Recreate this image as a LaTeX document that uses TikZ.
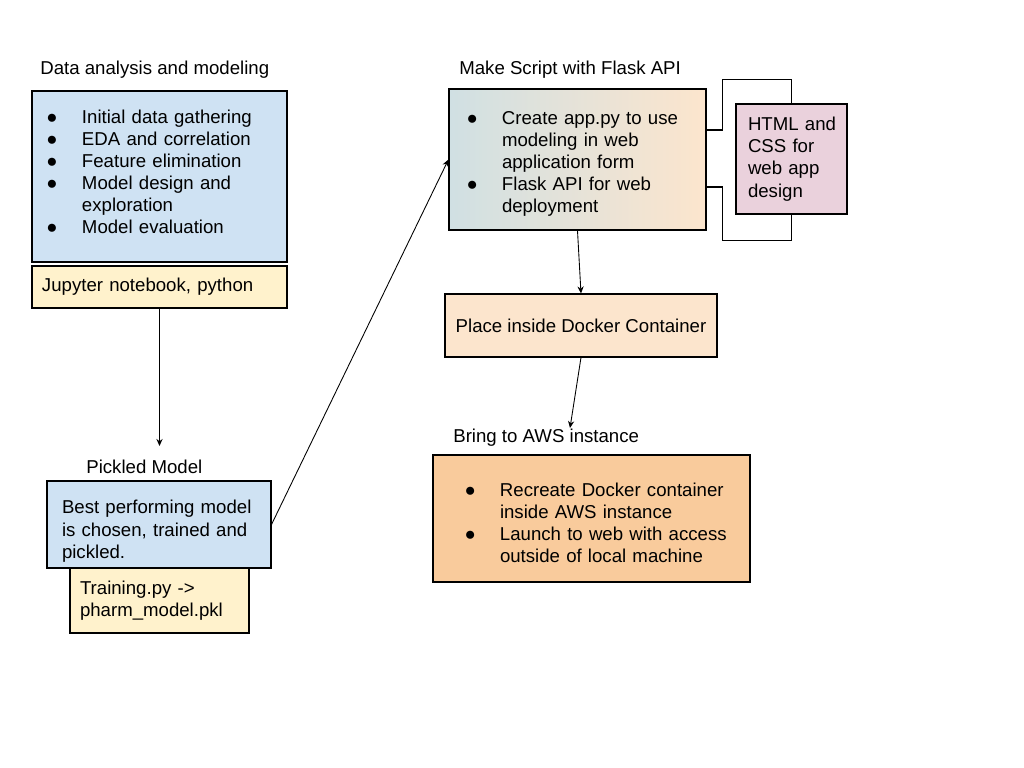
\documentclass[tikz,border=0pt]{standalone}
\usepackage{fontspec}
\setmainfont{Liberation Sans}
\usetikzlibrary{arrows.meta}

% box fill colours
\definecolor{boxblue}{HTML}{CFE2F3}
\definecolor{boxyellow}{HTML}{FFF2CC}
\definecolor{boxpink}{HTML}{EAD1DC}
\definecolor{boxpeach}{HTML}{FCE5CD}
\definecolor{boxorange}{HTML}{F9CB9C}
\definecolor{boxteal}{HTML}{D0E0E3}

% text with a left padding inside the boxes, and bullet items
\newcommand{\padtext}[2]{\leftskip=#1\relax #2\par}
\newcommand{\bitem}[1]{\par\hangindent=0.71cm\hangafter=1\noindent\makebox[0.71cm][l]{●}#1}

\begin{document}
\begin{tikzpicture}[
    font=\fontsize{10.6}{12.6}\selectfont,
    box/.style={draw, line width=0.6pt, inner sep=0pt, align=left},
    title/.style={inner sep=0pt, anchor=west},
    arr/.style={-{Stealth[length=4pt,width=3.5pt]}, line width=0.5pt}
]

    % fix the page to the size of the reference
    \useasboundingbox (0,0) rectangle (20.48,-15.36);

    % Data analysis and modeling, with its tools below it
    \node[title] (dlab) at (0.80,-1.40) {Data analysis and modeling};
    \node[box, fill=boxblue, text width=5.10cm, minimum height=3.42cm] (data) at (3.19,-3.53)
        {\padtext{0.29cm}{\bitem{Initial data gathering}\bitem{EDA and correlation}\bitem{Feature elimination}%
         \bitem{Model design and\newline exploration}\bitem{Model evaluation}}\kern0.36cm};
    \node[box, fill=boxyellow, text width=5.10cm, minimum height=0.84cm] (jup) at (3.19,-5.74)
        {\padtext{0.20cm}{Jupyter notebook, python}};

    % Pickled model, with its files below it
    \node[title] (plab) at (1.72,-9.34) {Pickled Model};
    \node[box, fill=boxblue, text width=4.48cm, minimum height=1.74cm] (pick) at (3.18,-10.49)
        {\par\kern0.1cm\padtext{0.30cm}{Best performing model\newline is chosen, trained and\newline pickled.}};
    \node[box, fill=boxyellow, text width=3.58cm, minimum height=1.30cm] (train) at (3.19,-12.01)
        {\padtext{0.20cm}{Training.py ->\newline pharm\_model.pkl}};

    % Flask script and the html/css design beside it
    \node[title] (flab) at (9.18,-1.40) {Make Script with Flask API};
    \node[box, left color=boxteal, right color=boxpeach, text width=5.14cm, minimum height=2.82cm] (flask) at (11.55,-3.19)
        {\padtext{0.35cm}{\bitem{Create app.py to use\newline modeling in web\newline application form}\bitem{Flask API for web\newline deployment}}};
    \node[box, fill=boxpink, text width=2.22cm, minimum height=2.20cm] (html) at (15.83,-3.18)
        {\padtext{0.24cm}{HTML and\newline CSS for\newline web app\newline design}};

    % Docker container
    \node[box, fill=boxpeach, align=center, minimum width=5.44cm, minimum height=1.26cm] (docker) at (11.62,-6.51)
        {Place inside Docker Container};

    % AWS instance
    \node[title] (alab) at (9.06,-8.76) {Bring to AWS instance};
    \node[box, fill=boxorange, text width=6.34cm, minimum height=2.54cm] (aws) at (11.83,-10.37)
        {\padtext{0.63cm}{\bitem{Recreate Docker container\newline inside AWS instance}\bitem{Launch to web with access\newline outside of local machine}}};

    % free arrow ends
    \coordinate (pin) at (3.19,-8.92);
    \coordinate (awsin) at (11.40,-8.56);

    % arrows between the steps
    \draw[arr] (jup.south) -- (pin);
    \draw[arr] (pick.east) -- (flask.west);
    \draw[arr] (flask.south) -- (docker.north);
    \draw[arr] (docker.south) -- (awsin);

    % brackets joining the flask box and the html box
    \draw[line width=0.6pt] (flask.east |- 0,-2.60) -- ++(0.32,0) |- ([yshift=0.48cm]html.north) -- (html.north);
    \draw[line width=0.6pt] (flask.east |- 0,-3.74) -- ++(0.32,0) |- ([yshift=-0.52cm]html.south) -- (html.south);

\end{tikzpicture}
\end{document}
